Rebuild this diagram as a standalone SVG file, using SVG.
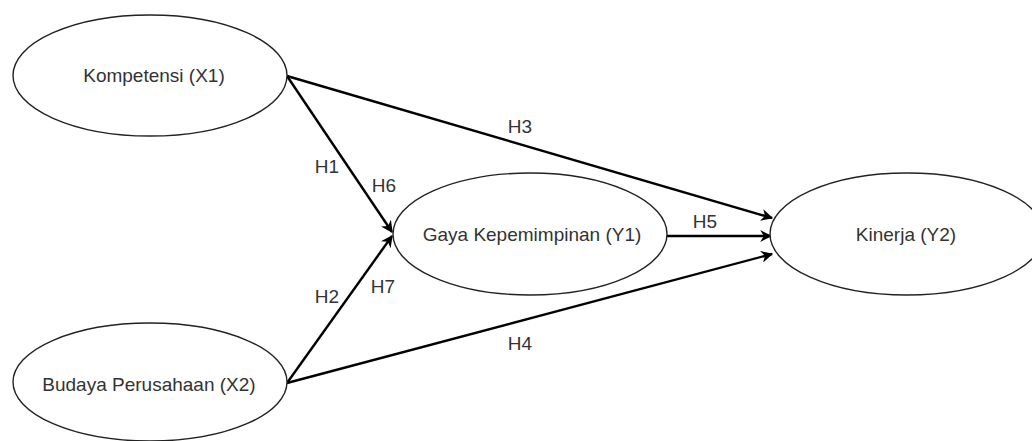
<svg xmlns="http://www.w3.org/2000/svg" width="1032" height="441" viewBox="0 0 1032 441">
<style>
.node ellipse{fill:#fff;stroke:#222;stroke-width:1.4}
.node text,.lbl{font-family:"Liberation Sans",Arial,sans-serif;font-size:19px;fill:#333;text-anchor:middle}
.edge{stroke:#000;stroke-width:2.4;fill:none;marker-end:url(#arr)}
</style>
<defs>
<marker id="arr" viewBox="0 0 10 10" refX="9" refY="5" markerWidth="5" markerHeight="5" markerUnits="strokeWidth" orient="auto">
<path d="M0,0 L10,5 L0,10 L3,5 Z" fill="#000"/>
</marker>
</defs>
<rect width="1032" height="441" fill="#fff"/>
<g id="connectors">
<line class="edge" x1="287" y1="76" x2="772" y2="218"/>
<line class="edge" x1="287" y1="76" x2="392" y2="232"/>
<line class="edge" x1="287" y1="383" x2="392" y2="236"/>
<line class="edge" x1="287" y1="383" x2="772" y2="254"/>
<line class="edge" x1="667" y1="236" x2="771" y2="236"/>
<text class="lbl" x="327" y="173">H1</text>
<text class="lbl" x="384" y="192">H6</text>
<text class="lbl" x="520" y="133">H3</text>
<text class="lbl" x="705" y="228">H5</text>
<text class="lbl" x="327" y="303">H2</text>
<text class="lbl" x="383" y="293">H7</text>
<text class="lbl" x="520" y="350">H4</text>
</g>
<g id="kompetensi" class="node">
<ellipse cx="150" cy="75.5" rx="137" ry="60.5"/>
<text x="154" y="82">Kompetensi (X1)</text>
</g>
<g id="budaya" class="node">
<ellipse cx="150" cy="382" rx="137" ry="59"/>
<text x="149" y="391">Budaya Perusahaan (X2)</text>
</g>
<g id="gaya" class="node">
<ellipse cx="530" cy="234" rx="137" ry="61"/>
<text x="532" y="241">Gaya Kepemimpinan (Y1)</text>
</g>
<g id="kinerja" class="node">
<ellipse cx="907" cy="234" rx="137" ry="61"/>
<text x="906" y="241">Kinerja (Y2)</text>
</g>
</svg>
